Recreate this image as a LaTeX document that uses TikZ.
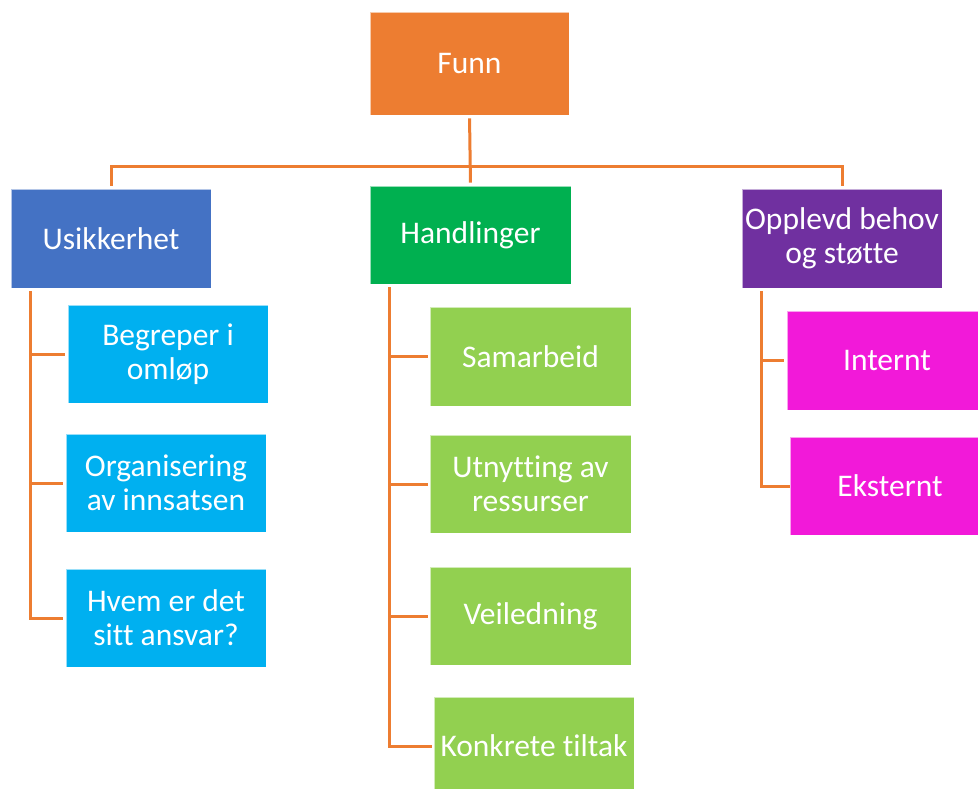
\documentclass[tikz,border=0pt]{standalone}
\usepackage{fontspec}
\setmainfont{Carlito}[Ligatures={NoCommon}]
\definecolor{cOrange}{HTML}{ED7D31}
\definecolor{cBlue}{HTML}{4472C4}
\definecolor{cGreen}{HTML}{00B050}
\definecolor{cPurple}{HTML}{7030A0}
\definecolor{cLBlue}{HTML}{00B0F0}
\definecolor{cLGreen}{HTML}{92D050}
\definecolor{cMagenta}{HTML}{F219D9}
\tikzset{
  box/.style={rectangle, inner sep=0pt, minimum width=200pt, minimum height=98pt,
    text=white, align=center, draw=white, draw opacity=0.6, line width=0.8pt,
    font=\fontsize{31.5}{34}\selectfont},
  conn/.style={draw=cOrange, line width=3pt}
}
\begin{document}
\begin{tikzpicture}[x=1pt,y=-1pt]
\useasboundingbox (0,0) rectangle (978,789);
\clip (0,0) rectangle (978,789);
\node[box, fill=cOrange, minimum width=199pt, minimum height=103pt] (funn) at (469.5,63.5) {Funn};
\node[box, fill=cBlue, minimum height=99pt] (usik) at (111,238.5) {Usikkerhet};
\node[box, fill=cGreen, minimum width=201pt] (handl) at (470.5,235) {Handlinger};
\node[box, fill=cPurple, minimum height=99pt] (opp) at (842,238.5) {Opplevd behov\\og støtte};
\node[box, fill=cLBlue] (beg) at (168,354) {Begreper i\\omløp};
\node[box, fill=cLBlue] (org) at (166,483) {Organisering\\av innsatsen};
\node[box, fill=cLBlue] (hvem) at (166,618) {Hvem er det\\sitt ansvar?};
\node[box, fill=cLGreen, minimum width=201pt, minimum height=99pt] (sam) at (530.5,356.5) {Samarbeid};
\node[box, fill=cLGreen, minimum width=201pt] (utn) at (530.5,484) {Utnytting av\\ressurser};
\node[box, fill=cLGreen, minimum width=201pt] (veil) at (530.5,616) {Veiledning};
\node[box, fill=cLGreen] (konk) at (534,746) {Konkrete tiltak};
\node[box, fill=cMagenta, minimum height=99pt] (intern) at (887,360.5) {Internt};
\node[box, fill=cMagenta] (ekst) at (890,486) {Eksternt};
% top connectors
\coordinate (bus) at (470,167);
\draw[conn, shorten <=3pt, shorten >=3pt] (funn.south) -- (handl.north);
\draw[conn, shorten <=3pt, shorten >=3pt] (usik.north) |- (bus) -| (opp.north);
% Usikkerhet children
\coordinate (u0) at (30,291);
\draw[conn, shorten >=3pt] (u0) |- (beg.west);
\draw[conn, shorten >=3pt] (u0) |- (org.west);
\draw[conn, shorten >=3pt] (u0) |- (hvem.west);
% Handlinger children
\coordinate (h0) at (389,287);
\draw[conn, shorten >=2pt] (h0) |- (sam.west);
\draw[conn, shorten >=2pt] (h0) |- (utn.west);
\draw[conn, shorten >=2pt] (h0) |- (veil.west);
\draw[conn, shorten >=2pt] (h0) |- (konk.west);
% Opplevd children
\coordinate (o0) at (761,291);
\draw[conn, shorten >=3pt] (o0) |- (intern.west);
\draw[conn, shorten >=0pt] (o0) |- (ekst.west);
\end{tikzpicture}
\end{document}
